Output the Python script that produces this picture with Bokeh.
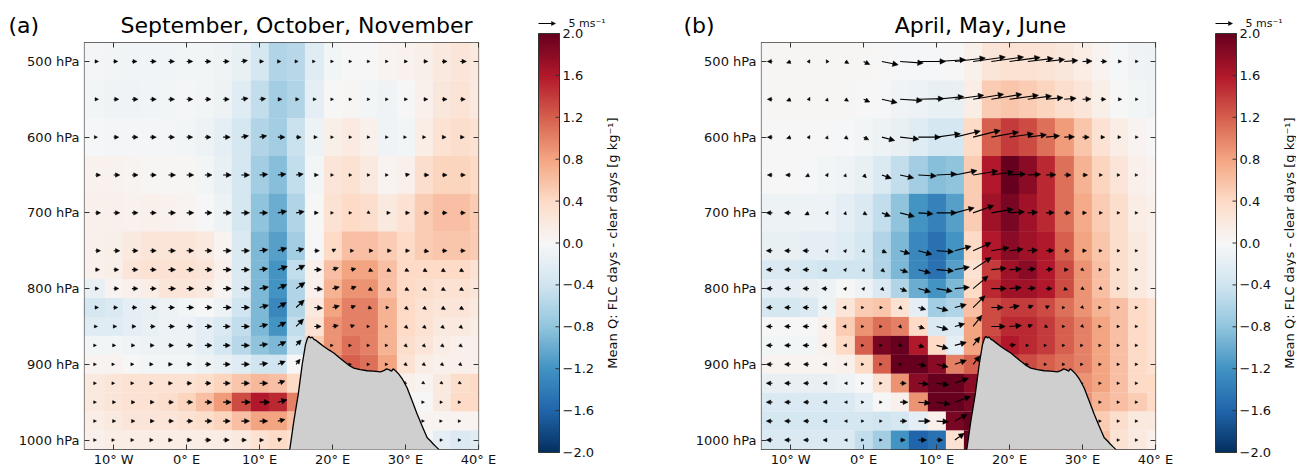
import numpy as np
from bokeh.plotting import figure
from bokeh.models import (Range1d, Arrow, NormalHead, ColumnDataSource,
                          FixedTicker, LinearAxis, LinearColorMapper)
from bokeh.layouts import row, column
from bokeh.embed import file_html
from bokeh.resources import INLINE
from bokeh.core.properties import value, field

# ---------------- data ----------------
LEVELS = [500, 550, 600, 650, 700, 750, 775, 800, 825, 850, 875, 900, 925, 950, 975, 1000]
HEAT_LON = [-15.0, -12.5, -10.0, -7.5, -5.0, -2.5, 0.0, 2.5, 5.0, 7.5, 10.0, 12.5, 15.0,
            17.5, 20.0, 22.5, 25.0, 27.5, 30.0, 32.5, 35.0, 37.5, 40.0]
ARROW_LON = [-12.5, -10.0, -7.5, -5.0, -2.5, 0.0, 2.5, 5.0, 7.5, 10.0, 12.5, 15.0,
             17.5, 20.0, 22.5, 25.0, 27.5, 30.0, 32.5, 35.0, 37.5]

X_TICKS = [-10, 0, 10, 20, 30, 40]
X_LABELS = ["10° W", "0° E", "10° E", "20° E", "30° E", "40° E"]
Y_TICKS = [500, 600, 700, 800, 900, 1000]
Y_LABELS = ["500 hPa", "600 hPa", "700 hPa", "800 hPa", "900 hPa", "1000 hPa"]
CB_TICKS = [-2.0, -1.6, -1.2, -0.8, -0.4, 0.0, 0.4, 0.8, 1.2, 1.6, 2.0]
CB_LABEL = "Mean Q: FLC days - clear days [g kg⁻¹]"
REF_SPEED = 5.0
REF_TEXT = "5 ms⁻¹"

TITLES = ["September, October, November", "April, May, June"]
TAGS = ["(a)", "(b)"]

# surface (terrain) profile: longitude, surface pressure
TERRAIN_LON = [13.95, 14.14, 14.69, 15.29, 15.84, 16.29, 16.55, 16.74, 16.95, 17.21, 17.45,
               17.66, 18.2, 18.8, 19.5, 20.17, 20.9, 21.54, 22.2, 22.91, 23.8, 24.75, 25.6,
               26.57, 27.1, 27.4, 27.71, 28.1, 28.3, 28.63, 29.08, 29.6, 30.21, 30.9, 31.6,
               32.3, 32.97, 33.4, 33.83, 34.2, 34.52, 34.7]
TERRAIN_P = [1025, 1012, 975, 940, 900, 874, 866, 863, 865, 864, 867,
             868, 872, 876.5, 881, 885, 891, 896, 901, 905, 907, 908.5, 909,
             910, 908, 906, 907, 909, 906, 908.5, 913, 920, 931, 948, 966,
             982, 997, 1001, 1005.5, 1009, 1012, 1025]

# Mean Q difference, rows = LEVELS, columns = HEAT_LON
Q_SON = """
-0.04 -0.04 -0.06 -0.07 -0.07 -0.07 -0.06 -0.06 -0.08 -0.15 -0.35 -0.6 -0.55 -0.25 -0.05 0.0 0.0 0.05 0.08 0.12 0.2 0.25 0.2
-0.04 -0.06 -0.08 -0.08 -0.07 -0.06 -0.04 -0.06 -0.1 -0.25 -0.5 -0.7 -0.6 -0.2 0.0 0.02 -0.05 -0.08 0.0 0.1 0.22 0.28 0.2
0.0 -0.02 -0.04 -0.04 -0.04 -0.04 -0.06 -0.1 -0.2 -0.35 -0.6 -0.7 -0.45 -0.1 0.12 0.18 0.1 -0.08 -0.05 0.15 0.3 0.35 0.3
0.05 0.08 0.08 0.05 0.03 0.03 0.02 -0.05 -0.15 -0.35 -0.7 -0.85 -0.5 -0.05 0.25 0.3 0.2 0.05 0.1 0.35 0.45 0.45 0.4
0.08 0.1 0.1 0.08 0.1 0.08 0.05 0.0 -0.1 -0.35 -0.8 -1.0 -0.6 0.0 0.3 0.4 0.35 0.2 0.3 0.5 0.6 0.6 0.5
0.05 0.1 0.12 0.2 0.25 0.25 0.25 0.2 0.05 -0.3 -0.9 -1.1 -0.7 0.0 0.4 0.6 0.6 0.5 0.4 0.5 0.55 0.55 0.5
0.05 0.1 0.12 0.25 0.3 0.3 0.3 0.25 0.1 -0.3 -0.9 -1.2 -0.5 0.1 0.6 0.8 0.8 0.6 0.4 0.4 0.4 0.4 0.3
-0.15 -0.15 0.05 0.1 0.15 0.25 0.25 0.2 0.05 -0.3 -0.9 -1.2 -0.6 0.1 0.7 0.9 0.9 0.6 0.4 0.35 0.3 0.3 0.25
-0.35 -0.35 -0.3 -0.2 -0.15 -0.1 -0.05 0.0 -0.1 -0.4 -0.9 -1.3 -0.6 0.2 0.8 1.0 1.0 0.7 0.4 0.3 0.25 0.25 0.2
-0.25 -0.25 -0.25 -0.2 -0.15 -0.12 -0.12 -0.2 -0.3 -0.5 -0.9 -1.2 -0.5 0.3 0.9 1.0 1.0 0.7 0.4 0.3 0.2 0.2 0.15
-0.05 -0.05 -0.05 -0.08 -0.1 -0.1 -0.1 -0.2 -0.35 -0.55 -0.8 -0.9 -0.4 0.5 0.9 1.1 1.0 0.7 0.35 0.25 0.15 0.1 0.1
0.05 0.05 0.05 0.0 -0.05 -0.05 -0.05 -0.1 -0.15 -0.25 -0.4 -0.4 0.0 0.6 1.0 1.2 1.1 0.8 0.3 0.15 0.1 0.1 0.1
0.2 0.2 0.25 0.3 0.3 0.3 0.3 0.35 0.45 0.55 0.65 0.6 0.4 0.3 0.3 0.3 0.3 0.3 0.1 0.05 0.2 0.35 0.4
0.2 0.2 0.25 0.3 0.3 0.35 0.45 0.6 0.85 1.3 1.6 1.5 1.0 0.3 0.3 0.3 0.3 0.3 0.0 0.0 0.2 0.4 0.4
0.15 0.15 0.2 0.25 0.25 0.25 0.3 0.35 0.45 0.6 0.8 0.8 0.6 0.3 0.3 0.3 0.3 0.3 0.1 0.05 0.05 0.05 0.05
0.1 0.1 0.15 0.15 0.15 0.15 0.15 0.15 0.15 0.2 0.3 0.4 0.3 0.2 0.2 0.2 0.2 0.2 0.0 0.0 -0.2 -0.3 -0.25
"""

Q_AMJ = """
0.03 0.03 0.03 0.03 0.03 0.03 0.02 0.0 -0.02 -0.03 -0.03 0.0 0.1 0.25 0.3 0.3 0.28 0.22 0.15 0.05 -0.03 -0.08 -0.1
0.03 0.03 0.03 0.03 0.03 0.02 0.0 -0.03 -0.08 -0.12 -0.15 -0.15 0.15 0.5 0.55 0.5 0.45 0.35 0.25 0.12 0.0 -0.05 -0.08
0.0 0.0 0.0 0.0 0.0 -0.02 -0.05 -0.1 -0.15 -0.25 -0.35 -0.35 0.4 1.2 1.4 1.3 1.1 0.85 0.55 0.3 0.15 0.05 0.0
0.0 0.0 0.0 -0.02 -0.05 -0.08 -0.15 -0.3 -0.5 -0.7 -0.85 -0.8 0.5 1.6 2.0 1.8 1.5 1.1 0.7 0.45 0.25 0.1 0.05
-0.1 -0.1 -0.1 -0.1 -0.12 -0.2 -0.3 -0.5 -0.8 -1.2 -1.35 -1.1 0.5 1.7 1.9 1.7 1.5 1.1 0.75 0.5 0.35 0.15 0.1
-0.15 -0.15 -0.15 -0.2 -0.2 -0.25 -0.35 -0.6 -0.9 -1.3 -1.5 -1.2 0.4 1.6 1.8 1.7 1.6 1.2 0.8 0.55 0.35 0.2 0.1
-0.3 -0.3 -0.3 -0.35 -0.4 -0.4 -0.4 -0.6 -0.9 -1.3 -1.5 -1.1 0.3 1.4 1.7 1.8 1.6 1.3 0.9 0.6 0.35 0.2 0.1
-0.2 -0.2 -0.2 -0.15 -0.1 0.0 -0.1 -0.3 -0.6 -1.0 -1.2 -0.9 0.4 1.5 1.7 1.7 1.6 1.3 0.9 0.6 0.35 0.2 0.1
-0.3 -0.35 -0.35 -0.3 -0.1 0.25 0.5 0.55 0.3 -0.2 -0.7 -0.6 0.6 1.3 1.4 1.4 1.3 1.1 0.9 0.7 0.6 0.4 0.3
0.0 0.0 0.0 0.0 0.1 0.5 0.9 1.1 1.0 0.4 -0.3 -0.3 0.8 1.3 1.5 1.5 1.4 1.2 1.0 0.8 0.6 0.4 0.3
-0.05 -0.05 -0.05 -0.05 0.1 0.4 1.2 1.9 2.0 1.6 0.4 -0.2 0.8 1.4 1.6 1.5 1.4 1.2 1.0 0.8 0.6 0.4 0.3
0.05 0.05 0.05 0.05 0.05 0.1 0.4 1.2 2.0 2.0 1.8 1.0 1.2 1.4 1.4 1.3 1.2 1.1 1.0 0.8 0.6 0.4 0.3
-0.15 -0.15 -0.15 -0.15 -0.15 -0.1 0.0 0.3 0.9 1.8 2.0 2.0 1.8 1.4 1.4 1.3 1.2 1.1 0.9 0.8 0.6 0.4 0.4
-0.3 -0.3 -0.3 -0.3 -0.3 -0.3 -0.2 0.0 0.1 0.9 2.0 2.0 1.9 1.4 1.4 1.3 1.2 1.1 0.9 0.7 0.6 0.5 0.4
-0.35 -0.35 -0.35 -0.35 -0.35 -0.35 -0.35 -0.4 -0.35 -0.2 0.1 1.9 2.0 1.4 1.4 1.3 1.2 1.1 0.9 0.5 0.35 0.2 0.2
-0.3 -0.3 -0.3 -0.3 -0.3 -0.3 -0.5 -0.7 -1.2 -1.6 -1.5 0.3 2.0 1.4 1.4 1.3 1.2 1.1 0.9 0.6 0.3 0.2 0.1
"""

# wind: zonal (u) and vertical-in-plot (w, up positive), m/s, rows = LEVELS, cols = ARROW_LON
U_SON = """
0.9 1.2 1.5 1.8 1.8 1.8 1.8 1.8 1.8 1.2 0.9 0.6 0.3 0.3 0.3 0.3 0.3 0.6 1.2 1.5 1.8
0.9 1.5 1.8 1.8 1.8 1.8 1.8 1.8 2.0 1.8 1.2 0.9 0.6 0.3 0.3 0.3 0.3 0.6 1.2 1.5 1.5
0.6 1.5 1.8 1.8 1.8 1.8 1.8 2.1 2.1 2.1 2.1 1.5 0.9 0.3 0.3 0.3 0.3 0.3 0.6 1.2 1.2
1.5 1.8 1.8 1.8 2.1 2.1 2.1 2.4 2.4 2.4 2.4 2.1 1.2 0.3 0.3 0.3 0.3 1.2 1.5 1.5 1.5
1.5 1.8 1.8 1.8 2.1 2.1 2.1 2.4 2.4 2.4 2.6 2.4 1.2 0.3 0.3 0.3 0.9 1.2 1.5 1.5 1.5
1.5 1.8 1.8 1.8 2.1 2.1 2.1 2.4 2.4 2.4 2.6 2.3 1.5 1.0 0.9 1.2 1.2 1.2 1.5 1.5 1.5
1.2 1.5 1.8 1.8 2.1 2.1 2.1 2.4 2.4 2.4 2.8 2.6 2.1 1.7 1.5 1.1 1.1 1.0 1.0 1.0 1.0
1.0 1.5 1.8 1.8 2.1 2.1 2.1 2.4 2.4 2.6 2.6 2.6 2.4 2.0 1.6 1.0 1.0 1.0 0.8 1.0 1.0
0.9 1.2 1.5 1.8 1.8 2.1 2.1 2.4 2.4 2.6 2.5 2.4 2.4 2.0 1.4 0.8 0.5 0.8 0.8 1.0 1.0
0.6 0.9 1.2 1.5 1.8 1.8 2.1 2.1 2.4 2.4 2.4 2.2 2.0 1.7 1.1 0.2 0.2 0.7 0.7 0.7 0.7
0.3 0.6 0.9 1.2 1.5 1.8 2.1 2.1 2.4 2.4 2.4 1.5 nan 0.2 0.2 0.2 0.2 0.5 0.5 0.6 0.6
0.3 0.3 0.6 0.9 1.2 1.5 1.8 2.1 2.4 2.4 2.2 1.2 nan nan 0.2 0.2 0.2 0.5 0.5 0.5 0.5
0.3 0.3 0.6 0.9 1.2 1.5 1.8 2.1 2.4 2.4 2.1 nan nan nan nan nan nan 0.3 0.3 0.3 0.3
0.3 0.6 0.9 1.2 1.5 1.8 2.1 2.4 2.7 3.0 2.7 nan nan nan nan nan nan nan 0.2 0.2 0.2
0.3 0.6 0.9 1.2 1.5 1.8 2.1 2.1 2.4 2.4 2.1 nan nan nan nan nan nan nan 0.2 0.1 0.2
0.3 0.3 0.6 0.9 1.2 1.5 1.8 1.8 1.5 1.2 1.2 nan nan nan nan nan nan nan nan 0.2 0.2
"""
W_SON = """
0 0 0 0 0 0 0 0 0.3 0 0 0 0 0 0 0 0 0 0 0 0
0 0 0 0 0 0 0 0 0.3 0.2 0 0 0 0 0 0 0 0 0 0 0
0 0 0 0 0 0 0 0 0.4 0.4 0 0 0 0 0 0 0 0 0 0 0
0 0 0 0 0 0 0 0 0 0.2 0.3 0.3 0 0 0 0 0 0.2 0 0 0
0 0 0 0 0 0 0 0 0 0 0.5 0.4 0 0 0 -0.2 0 0 0 0 0
0 0 0 0 0 0 0 0 0 0.3 0.8 0.6 0 0.5 0 0 0 0 -0.2 0 0
0 0 0 0 0 0 0 0 0 0.3 1.0 1.3 0 0.6 0.3 -0.5 -0.5 -0.5 -0.6 -0.6 -0.6
0 0 0 0 0 0 0 0 0 0.5 1.2 1.8 -0.2 0.5 0.6 -0.6 -0.6 -0.6 -0.6 -0.6 -0.6
0 0 0 0 0 0 0 0 0 0.7 1.5 2.2 -0.2 0.5 0.5 -0.3 0 -0.6 -0.6 -0.6 -0.6
0 0 0 0 0 0 0 0 0 0.6 1.3 2.2 0 0.3 0.4 0 0 -0.6 -0.6 -0.6 -0.6
0 0 0 0 0 0 0 0 0 0.4 1.1 1.6 nan 0 0 0 0 -0.5 -0.5 -0.5 -0.5
0 0 0 0 0 0 0 0 0 0.3 0.9 1.5 nan nan 0 0 0 -0.4 -0.4 -0.4 -0.4
0 0 0 0 0 0 0 0 0 0 0.7 nan nan nan nan nan nan -0.2 -0.2 -0.2 -0.2
0 0 0 0 0 0 0 0 0 0 0.7 nan nan nan nan nan nan nan 0 0 0
0 0 0 0 0 0 0 0 0 0 0.5 nan nan nan nan nan nan nan 0 0 0
0 0 0 0 0 0 0 0 0 0 0.4 nan nan nan nan nan nan nan nan 0 0
"""
U_AMJ = """
-1.5 -1.2 0.3 -0.3 1.0 1.8 4.8 6.8 8.0 8.5 9.0 9.5 9.5 9.0 7.5 5.5 4.0 2.8 1.8 0.8 0.3
-1.5 -1.2 0.3 0.1 0.9 1.8 4.5 6.5 7.5 8.0 8.5 9.0 9.0 8.5 7.0 5.0 3.5 2.5 1.5 0.8 0.3
-1.5 -1.2 0.3 0.1 0.8 1.5 3.8 5.5 6.5 7.0 7.5 8.0 8.0 7.0 5.5 4.0 3.0 2.0 1.2 0.6 0.3
-1.5 -1.5 -1.0 0.3 0.1 0.8 2.8 4.0 5.3 5.9 6.5 7.3 6.5 4.7 3.8 2.9 2.0 1.5 0.5 0.3 0.2
-1.8 -1.8 -1.2 0.3 0.1 1.0 2.5 4.2 4.3 5.9 5.7 6.1 6.4 4.4 2.9 2.4 1.8 1.2 0.5 0.3 0.2
-1.8 -1.8 -1.8 0.3 0.3 0.1 1.4 2.9 4.0 5.0 4.8 5.3 5.2 4.0 2.9 2.3 1.5 1.2 0.4 0.3 0.2
-1.8 -1.8 -1.8 -1.4 0.3 0.1 0.8 2.3 3.6 5.0 4.3 5.3 4.4 3.5 2.3 2.0 1.2 0.4 0.3 0.2 0.2
-1.8 -1.8 -1.8 -1.6 0.3 0.3 0.6 2.0 3.6 4.6 4.3 4.4 4.4 3.5 2.3 1.8 1.0 0.5 0.4 0.2 0.2
-1.8 -1.8 -1.8 -1.5 -0.8 0.1 0.2 0.6 2.2 3.4 3.4 3.5 3.5 2.9 1.6 1.0 0.2 0.3 0.2 0.2 0.2
-1.8 -1.8 -1.8 -1.5 -0.8 0.1 0.1 0.4 1.8 3.4 2.9 2.6 4.1 3.5 1.4 0.5 0.2 0.3 0.2 0.2 0.2
-1.8 -1.8 -1.8 -1.5 -0.6 0.1 0.1 0.5 1.7 3.4 3.4 2.0 nan 1.8 0.3 0.2 0.2 0.2 0.2 0.2 0.2
-1.8 -1.8 -1.6 -1.3 -0.5 0.1 0.1 0.6 2.3 3.4 3.4 2.0 nan nan 0.2 0.2 0.2 0.2 0.2 0.2 0.2
-1.8 -1.8 -1.6 -1.2 -0.3 0.1 0.1 1.8 3.0 3.6 4.0 nan nan nan nan nan nan 0.2 0.2 0.2 0.2
-1.8 -1.8 -1.6 -1.2 -0.3 0.1 0.1 2.3 3.5 4.0 4.6 nan nan nan nan nan nan nan 0.2 0.2 0.2
-1.8 -1.8 -1.6 -1.2 -0.3 0.1 0.1 2.0 3.5 3.5 3.6 nan nan nan nan nan nan nan 0.2 0.2 0.2
-1.8 -1.8 -1.6 -1.2 -0.3 0.1 0.1 1.5 2.4 1.8 2.8 nan nan nan nan nan nan nan nan 0.2 0.2
"""
W_AMJ = """
0 -0.5 0.5 0.5 -0.6 -0.9 -1.0 -0.5 0.0 0.5 1.0 1.3 1.3 1.2 0.9 0.6 0.3 0.1 0 0 0
0 -0.5 0.6 0.4 -0.6 -0.8 -1.0 -0.4 0.2 0.8 1.2 1.5 1.5 1.2 1.0 0.5 0.3 0.1 0 0 0
0 -0.4 0.5 0.4 -0.6 -0.8 -1.0 -0.6 0.0 1.0 1.8 2.0 1.5 1.0 0.7 0.4 0.1 0 0 0 0
0 0 -0.5 0.5 0.4 -0.8 -1.0 -0.9 -0.3 0.3 1.3 1.2 0.9 0.3 0.2 0.1 0 0 0 0 0
0 0 -0.6 0.5 0.4 -0.6 -1.0 -1.1 -0.3 0 1.5 2.2 1.1 0.3 0.2 0.1 0 0 0 0 0
0 0 0 0.4 0.4 0.5 -0.6 -0.9 -1.1 -0.3 1.3 2.4 0.9 0.5 0.2 0.1 0 0 0 0 0
0 0 0 -0.3 0.4 0.4 -0.7 -0.8 -1.0 -0.4 0.8 3.6 0.4 0.2 0.3 0.2 0 -0.3 0 0 0
0 0 0 0 0.4 0.4 -0.6 -0.8 -1.0 -0.8 0.4 3.7 0 0.3 0.2 0 -0.4 -0.3 -0.3 0 0
0 0 0 0 0 0 0 -0.5 -0.6 -0.9 0.9 3.5 0 0.5 0.6 0.5 0 -0.3 0 0 0
0 0 0 0 0 0 0 -0.5 -0.6 -0.9 0.8 3.3 0 0.3 0.5 -0.3 0 -0.3 0 0 0
0 0 0 0 0 0 0 -0.4 -0.5 -0.9 0.9 2.5 nan 0.2 0 0 0 0 0 0 0
0 0 0 0 0 0 0 0 -0.5 -0.8 1.2 2.5 nan nan 0 0 0 0 0 0 0
0 0 0 0 0 0 0 0 -0.3 -0.5 1.5 nan nan nan nan nan nan 0 0 0 0
0 0 0 0 0 0 0 0 -0.3 -0.6 1.7 nan nan nan nan nan nan nan 0 0 0
0 0 0 0 0 0 0 0 0 -0.2 2.0 nan nan nan nan nan nan nan 0 0 0
0 0 0 0 0 0 0 0 0 0 2.0 nan nan nan nan nan nan nan nan 0 0
"""

# ---------------- styling / layout (pixels) ----------------
FONT = "DejaVu Sans"
H_TOTAL = 469
STRIP_H = 42            # title strip above each panel
FRAME_W = 394
FRAME_H = 410
BORDER_BOTTOM = H_TOTAL - STRIP_H - FRAME_H
LON_MIN, LON_MAX = -14.0, 40.0
K_PX = 3.4              # arrow pixels per m/s
CB_LOW, CB_HIGH = -2.0, 2.0
CB_X0, CB_X1 = 18, 39
CB_TOP_PX, CB_BOT_PX = 33, 452
CB_LABEL_X = 92
REF_Y_PX = 23
REF_TEXT_X = 48
TITLE_MID_Y = 25        # vertical middle of the title line, strip pixels


def grid(s):
    return [[float(t) for t in line.split()] for line in s.strip().splitlines()]


def build_palette(anchors, n=256):
    rgb = np.array([[int(c[i:i + 2], 16) for i in (1, 3, 5)] for c in anchors], float)
    t = np.linspace(0, 1, len(anchors))
    tt = np.linspace(0, 1, n)
    cols = np.stack([np.interp(tt, t, rgb[:, k]) for k in range(3)], axis=1)
    return ["#%02x%02x%02x" % tuple(int(round(v)) for v in c) for c in cols]


RDBU_R = ['#053061', '#2166ac', '#4393c3', '#92c5de', '#d1e5f0', '#f7f7f7',
          '#fddbc7', '#f4a582', '#d6604d', '#b2182b', '#67001f']
PAL = build_palette(RDBU_R)
MAPPER = LinearColorMapper(palette=PAL, low=CB_LOW, high=CB_HIGH)

lev = np.array(LEVELS, float)
edges = np.concatenate([[lev[0] - (lev[1] - lev[0]) / 2],
                        (lev[:-1] + lev[1:]) / 2,
                        [lev[-1] + (lev[-1] - lev[-2]) / 2]])
P_TOP, P_BOTTOM = edges[0], edges[-1]
PX_PER_DEG = FRAME_W / (LON_MAX - LON_MIN)
PX_PER_HPA = FRAME_H / (P_BOTTOM - P_TOP)
CELL_W = HEAT_LON[1] - HEAT_LON[0]


def make_axis(ticks, labels, show, standoff):
    return LinearAxis(ticker=FixedTicker(ticks=ticks),
                      major_label_overrides=dict(zip(ticks, labels)),
                      axis_line_color=None, major_tick_in=5, major_tick_out=0,
                      major_tick_line_color="#333333", major_tick_line_width=1,
                      major_label_text_font=FONT,
                      major_label_text_font_size="13px" if show else "0px",
                      major_label_text_color="#111111" if show else None,
                      major_label_standoff=standoff)


def make_strip(width, tag, tag_x, title, title_x):
    s = figure(width=width, height=STRIP_H, x_range=Range1d(0, width),
               y_range=Range1d(STRIP_H, 0), output_backend="svg", toolbar_location=None,
               x_axis_type=None, y_axis_type=None, min_border=0, outline_line_color=None,
               background_fill_color="white", border_fill_color="white")
    s.text(x=[tag_x], y=[TITLE_MID_Y], text=[tag], text_font=value(FONT),
           text_font_size="22px", text_color="black", text_align="left",
           text_baseline="middle")
    s.text(x=[title_x], y=[TITLE_MID_Y], text=[title], text_font=value(FONT),
           text_font_size="22px", text_color="black", text_align="center",
           text_baseline="middle")
    return s


def make_main(q_s, u_s, w_s, left, width):
    p = figure(width=width, height=H_TOTAL - STRIP_H, x_range=Range1d(LON_MIN, LON_MAX),
               y_range=Range1d(P_BOTTOM, P_TOP), output_backend="svg",
               toolbar_location=None, x_axis_type=None, y_axis_type=None,
               min_border_left=left, min_border_right=width - left - FRAME_W,
               min_border_top=0, min_border_bottom=BORDER_BOTTOM,
               background_fill_color="white", border_fill_color="white")
    p.outline_line_color = "#333333"
    p.outline_line_width = 1.2

    # one single-row image per pressure level, centred on its cell
    q = grid(q_s)
    imgs, ys, dhs = [], [], []
    for i in range(len(LEVELS)):
        assert len(q[i]) == len(HEAT_LON), (i, len(q[i]))
        imgs.append(np.array([q[i]], dtype=float))
        ys.append(float((edges[i] + edges[i + 1]) / 2))
        dhs.append(float(edges[i + 1] - edges[i]))
    n = len(imgs)
    xc = (HEAT_LON[0] + HEAT_LON[-1]) / 2
    dw = CELL_W * len(HEAT_LON)
    p.image(image=imgs, x=[xc] * n, y=ys, dw=[dw] * n, dh=dhs, anchor="center",
            color_mapper=MAPPER, dilate=True, level="image")

    u = grid(u_s); w = grid(w_s)
    x0, y0, x1, y1, hs = [], [], [], [], []
    for i, pl in enumerate(LEVELS):
        assert len(u[i]) == len(ARROW_LON) and len(w[i]) == len(ARROW_LON), i
        for j, lon in enumerate(ARROW_LON):
            uu, ww = u[i][j], w[i][j]
            if np.isnan(uu) or np.isnan(ww):
                continue
            x0.append(lon); y0.append(pl)
            x1.append(lon + uu * K_PX / PX_PER_DEG)
            y1.append(pl - ww * K_PX / PX_PER_HPA)
            L_px = K_PX * np.hypot(uu, ww)
            hs.append(float(np.clip(0.3 * L_px + 2.5, 2.5, 5.5)))
    asrc = ColumnDataSource(dict(x0=x0, y0=y0, x1=x1, y1=y1, hs=hs))
    arr = Arrow(end=NormalHead(size=field("hs"), fill_color="black", line_color="black",
                               line_width=0.5),
                x_start="x0", y_start="y0", x_end="x1", y_end="y1", source=asrc,
                line_color="black", line_width=1.1, level="underlay")
    p.add_layout(arr)

    p.patch(TERRAIN_LON, TERRAIN_P, fill_color="#cfcfcf", line_color="black", line_width=1.3)

    p.add_layout(make_axis(X_TICKS, X_LABELS, True, 2), "below")
    p.add_layout(make_axis(Y_TICKS, Y_LABELS, True, 5), "left")
    p.add_layout(make_axis(X_TICKS, ["" for _ in X_TICKS], False, 0), "above")
    p.add_layout(make_axis(Y_TICKS, ["" for _ in Y_TICKS], False, 0), "right")
    return p


def cb_val(local_y):
    return CB_HIGH - (local_y - CB_TOP_PX) * (CB_HIGH - CB_LOW) / (CB_BOT_PX - CB_TOP_PX)


def fmt(v):
    s = f"{abs(v):.1f}"
    return ("\u2212" + s) if v < 0 else s


def make_colorbar(width):
    p = figure(width=width, height=H_TOTAL, x_range=Range1d(0, width),
               y_range=Range1d(cb_val(H_TOTAL), cb_val(0)), output_backend="svg",
               toolbar_location=None, x_axis_type=None, y_axis_type=None, min_border=0,
               outline_line_color=None, background_fill_color="white",
               border_fill_color="white")
    grad = np.linspace(CB_LOW, CB_HIGH, 256).reshape(256, 1)
    p.image(image=[grad], x=CB_X0, y=CB_LOW, dw=CB_X1 - CB_X0, dh=CB_HIGH - CB_LOW,
            color_mapper=MAPPER)
    p.quad(left=[CB_X0], right=[CB_X1], bottom=[CB_LOW], top=[CB_HIGH],
           fill_color=None, line_color="#333333", line_width=1)
    n = len(CB_TICKS)
    p.segment(x0=[CB_X1 - 4] * n, x1=[CB_X1] * n, y0=CB_TICKS, y1=CB_TICKS,
              line_color="#333333", line_width=1)
    p.text(x=[CB_X1 + 3] * n, y=CB_TICKS, text=[fmt(v) for v in CB_TICKS],
           text_font=value(FONT), text_font_size="13px", text_color="#111111",
           text_align="left", text_baseline="middle")
    p.text(x=[CB_LABEL_X], y=[(CB_LOW + CB_HIGH) / 2], text=[CB_LABEL], angle=np.pi / 2,
           text_font=value(FONT), text_font_size="13px", text_color="#111111",
           text_align="center", text_baseline="middle")
    yref = cb_val(REF_Y_PX)
    p.add_layout(Arrow(x_start=CB_X0, y_start=yref, x_end=CB_X0 + REF_SPEED * K_PX, y_end=yref,
                       end=NormalHead(size=4, fill_color="black", line_color="black",
                                      line_width=0.5),
                       line_color="black", line_width=1.1))
    p.text(x=[REF_TEXT_X], y=[yref], text=[REF_TEXT], text_font=value(FONT),
           text_font_size="11px", text_color="#111111", text_align="left",
           text_baseline="middle")
    return p


strip_a = make_strip(520, TAGS[0], 8, TITLES[0], 296)
fig_a = make_main(Q_SON, U_SON, W_SON, 84, 520)
cb_a = make_colorbar(160)
strip_b = make_strip(517, TAGS[1], 3, TITLES[1], 300)
fig_b = make_main(Q_AMJ, U_AMJ, W_AMJ, 81, 517)
cb_b = make_colorbar(99)

# strips are wrapped in their own rows so their frames are not aligned with the plots
layout = row(column(row(strip_a), row(fig_a)), cb_a,
             column(row(strip_b), row(fig_b)), cb_b)
open("out.html", "w").write(file_html(layout, INLINE))
